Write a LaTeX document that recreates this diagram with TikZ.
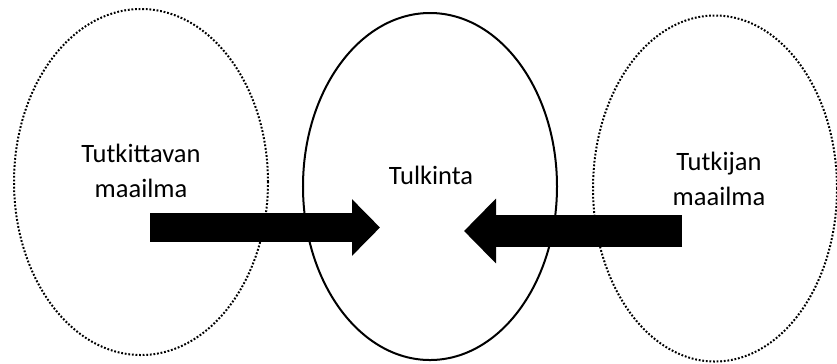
\documentclass[tikz,border=0pt]{standalone}
\usepackage{fontspec}
\setmainfont{Carlito}
\usetikzlibrary{shapes.geometric, arrows.meta, positioning}

\begin{document}
\begin{tikzpicture}[
        x=0.5bp, y=-0.5bp,
        world/.style={ellipse, draw, line width=1bp, dash pattern=on 0.9bp off 0.9bp, inner sep=0pt, minimum height=173bp},
        core/.style={ellipse, draw, line width=1bp, inner sep=0pt, minimum width=127bp, minimum height=173.5bp},
        lbl/.style={align=center, font=\fontsize{13.3}{17.5}\selectfont},
        flow/.style={line width=#1}
    ]
    \useasboundingbox (0,0) rectangle (837,363);
    % Worlds
    \node[world, minimum width=127bp] (subject) at (141,182) {};
    \node[core] (interp) at (430,186.5) {};
    \node[world, minimum width=122bp] (researcher) at (715,188.5) {};
    % Labels
    \node[lbl] (subjtext) at (141,171) {Tutkittavan\\maailma};
    \node[lbl] (interptext) at (431,175) {Tulkinta};
    \node[lbl] (restext) at (719,179) {Tutkijan\\maailma};
    % Arrows
    \coordinate (subjout) at (150,227.5);
    \coordinate (subjin) at (380,227.5);
    \coordinate (resout) at (682,231);
    \coordinate (resin) at (464,231);
    \draw[flow=14.5bp, -{Triangle[length=14bp, width=27.5bp]}] (subjout) -- (subjin);
    \draw[flow=16bp, -{Triangle[length=16bp, width=31.5bp]}] (resout) -- (resin);
\end{tikzpicture}
\end{document}
